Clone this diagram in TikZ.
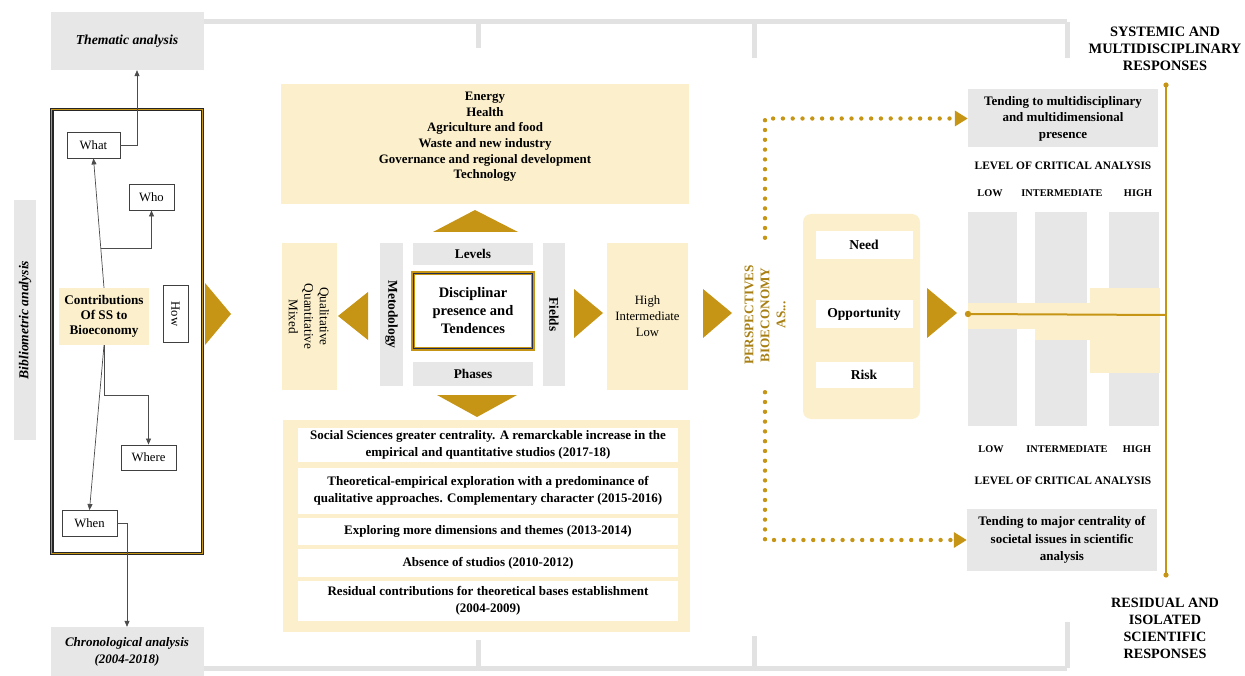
\documentclass[tikz,border=0pt]{standalone}
\usepackage{fontspec}
\setmainfont{Liberation Serif}
\usetikzlibrary{arrows.meta,calc}
\definecolor{gold}{RGB}{198,149,22}
\definecolor{paleY}{RGB}{252,240,204}
\definecolor{paleG}{RGB}{231,231,231}
\definecolor{frameG}{RGB}{226,226,226}
\definecolor{inkB}{RGB}{35,45,80}
\newcommand\fsz[2]{\fontsize{#1}{#2}\selectfont}
\begin{document}
\begin{tikzpicture}[x=1pt,y=-1pt,
  greybox/.style={fill=paleG,draw=none,inner sep=0pt,align=center},
  yelbox/.style={fill=paleY,draw=none,inner sep=0pt,align=center},
  wbox/.style={fill=white,draw=black!75,line width=0.9pt,inner sep=0pt,font=\fsz{12.7}{14}},
  conn/.style={draw=black!70,line width=0.7pt},
  tipA/.style={-{Triangle[width=5pt,length=6pt]}},
  bigtri/.style={fill=gold,draw=none},
  dotline/.style={draw=gold,line width=4.4pt,line cap=round,dash pattern=on 0pt off 9.8pt,
     -{Triangle[width=15pt,length=13pt]}},
  rowbox/.style={fill=white,draw=none,inner sep=0pt,minimum width=380pt,align=center,font=\bfseries\fsz{13}{16.8}},
  small/.style={font=\bfseries\fsz{10.3}{12},inner sep=0pt},
  lca/.style={font=\bfseries\fsz{11.4}{13},inner sep=0pt},
  frameline/.style={draw=frameG,line width=5pt}
]
\useasboundingbox (0,0) rectangle (1245,676);

% ---------- outer grey frame lines ----------
\draw[frameline] (203,22) -- (1067,22);
\draw[frameline] (478,22) -- (478,48);
\draw[frameline] (754,22) -- (754,58);
\draw[frameline] (1067,22) -- (1067,58);
\draw[frameline] (203,668) -- (1067,668);
\draw[frameline] (478,668) -- (478,640);
\draw[frameline] (754,668) -- (754,636);
\draw[frameline] (1067,668) -- (1067,622);

% ---------- left column ----------
\node[greybox,minimum width=153pt,minimum height=58pt,font=\bfseries\itshape\fsz{13.7}{15}] (them) at (127,41) {Thematic analysis};
\node[greybox,minimum width=153pt,minimum height=49pt,font=\bfseries\itshape\fsz{13}{17}] (chron) at (127,651.5) {Chronological analysis\\(2004-2018)};
\node[greybox,rotate=90,minimum width=240pt,minimum height=22pt,font=\bfseries\itshape\fsz{13.6}{15}] (biblio) at (25,320) {Bibliometric analysis};

\node[minimum width=150pt,minimum height=443pt,inner sep=0pt] (frame) at (127,331.5) {};
\draw[line width=3.4pt,draw=black!85] (frame.south west) rectangle (frame.north east);
\draw[line width=1.1pt,draw=gold] (frame.south west) rectangle (frame.north east);

\node[wbox,minimum width=53pt,minimum height=26pt] (what) at (93.5,145) {What};
\node[wbox,minimum width=45pt,minimum height=26pt] (who) at (151.5,197) {Who};
\node[yelbox,minimum width=90pt,minimum height=57pt,font=\bfseries\fsz{13.2}{15.2}] (contrib) at (104,316.5) {Contributions\\Of SS to\\Bioeconomy};
\node[wbox,rotate=-90,minimum width=57pt,minimum height=25pt] (how) at (175.5,314) {How};
\node[wbox,minimum width=55pt,minimum height=25pt] (where) at (148.5,457.5) {Where};
\node[wbox,minimum width=55pt,minimum height=26pt] (when) at (89.5,523.5) {When};

\coordinate (wb) at ($(contrib.north)!0.3077!(what.south)$);
\draw[conn,tipA] (contrib.north) -- (what.south);
\draw[conn,tipA] (wb) -| (who.south);
\draw[conn,tipA] (what.east) -| ($(them.south)+(10,0)$);
\draw[conn,tipA] (contrib.south) -- ++(0,50) -| (where.north);
\draw[conn,tipA] (contrib.south) -- (when.north);
\draw[conn,tipA] (when.east) -| (chron.north);

\fill[bigtri] (205,283) -- (231,314) -- (205,345) -- cycle;

% ---------- middle ----------
\node[yelbox,minimum width=408pt,minimum height=120pt] (sectbg) at (485,144) {};
\node[inner sep=0pt,align=center,font=\bfseries\fsz{12.9}{15.6}] (sectors) at (485,137) {Energy\\Health\\Agriculture and food\\Waste and new industry\\Governance and regional development\\Technology};
\fill[bigtri] (433,232) -- (475,210) -- (518,232) -- cycle;

\node[greybox,rotate=-90,minimum width=143pt,minimum height=23pt,font=\bfseries\fsz{13.5}{14}] (metod) at (391.5,314.5) {Metodology};
\node[greybox,rotate=-90,minimum width=143pt,minimum height=22pt,font=\bfseries\fsz{13.3}{14}] (fields) at (554,314.5) {Fields};
\node[greybox,minimum width=120pt,minimum height=22pt,font=\bfseries\fsz{13.3}{14}] (levels) at (473,254) {Levels};
\node[greybox,minimum width=120pt,minimum height=24pt,font=\bfseries\fsz{13.3}{14}] (phases) at (473,374) {Phases};
\node[fill=white,draw=gold,line width=3.4pt,minimum width=120pt,minimum height=76pt,inner sep=0pt,align=center,font=\bfseries\fsz{14.5}{18}] (disc) at (473,311) {Disciplinar\\presence and\\Tendences};
\draw[line width=0.9pt,draw=inkB] ($(disc.south west)+(2.6,-2.6)$) rectangle ($(disc.north east)+(-2.6,2.6)$);

\fill[bigtri] (368,292) -- (338,316) -- (368,340) -- cycle;
\node[yelbox,rotate=-90,minimum width=147pt,minimum height=55pt,font=\fsz{13.2}{15.5}] (qual) at (309,316.5) {Qualitative\\Quantitative\\Mixed};
\fill[bigtri] (574,289) -- (603,313) -- (574,338) -- cycle;
\node[yelbox,minimum width=81pt,minimum height=147pt,font=\fsz{12.7}{16}] (hil) at (647.5,316.5) {High\\Intermediate\\Low};
\fill[bigtri] (703,289) -- (732,313) -- (703,338) -- cycle;
\fill[bigtri] (437,395) -- (517,395) -- (477,417) -- cycle;

\node[yelbox,minimum width=407pt,minimum height=212pt] (phasebox) at (486.5,526) {};
\node[rowbox,minimum height=34pt] (r1) at (488,445) {Social Sciences greater centrality. A remarckable increase in the\\empirical and quantitative studios (2017-18)};
\node[rowbox,minimum height=46pt] (r2) at (488,491) {Theoretical-empirical exploration with a predominance of\\qualitative approaches. Complementary character (2015-2016)};
\node[rowbox,minimum height=27pt] (r3) at (488,531) {Exploring more dimensions and themes (2013-2014)};
\node[rowbox,minimum height=28pt] (r4) at (488,563) {Absence of studios (2010-2012)};
\node[rowbox,minimum height=40pt] (r5) at (488,601) {Residual contributions for theoretical bases establishment\\(2004-2009)};

% ---------- right ----------
\node[rotate=90,minimum width=154pt,inner sep=0pt,align=center,text=gold!85!black,font=\bfseries\fsz{13.2}{16}] (persp) at (765,315) {PERSPECTIVES\\BIOECONOMY\\AS...};

\node[greybox,minimum width=190pt,minimum height=58pt,font=\bfseries\fsz{13}{16.5}] (tend1) at (1063,118.5) {Tending to multidisciplinary\\and multidimensional\\presence};
\node[greybox,minimum width=190pt,minimum height=62pt,font=\bfseries\fsz{13}{17.5}] (tend2) at (1062,540) {Tending to major centrality of\\societal issues in scientific\\analysis};

\draw[dotline] (persp.east) |- (tend1.west);
\draw[dotline] (persp.west) |- (tend2.west);

\node[yelbox,rounded corners=8pt,minimum width=117pt,minimum height=205pt] (npanel) at (861.5,316.5) {};
\node[fill=white,inner sep=0pt,minimum width=97pt,minimum height=28pt,font=\bfseries\fsz{13.6}{14}] (need) at (864,245) {Need};
\node[fill=white,inner sep=0pt,minimum width=97pt,minimum height=28pt,font=\bfseries\fsz{13.6}{14}] (opp) at (864,314) {Opportunity};
\node[fill=white,inner sep=0pt,minimum width=97pt,minimum height=26pt,font=\bfseries\fsz{13.6}{14}] (risk) at (864,375) {Risk};
\fill[bigtri] (927,288) -- (957,313) -- (927,338) -- cycle;

\fill[paleG] (968,212) rectangle (1017,426);
\fill[paleG] (1035,212) rectangle (1087,426);
\fill[paleG] (1109,212) rectangle (1159,426);
\fill[paleY] (968,303) rectangle (1160,329);
\fill[paleY] (1035,303) rectangle (1100,340);
\fill[paleY] (1090,288) rectangle (1160,373);

\node[lca] (lca1) at (1063,166) {LEVEL OF CRITICAL ANALYSIS};
\node[small] (low1) at (990,193) {LOW};
\node[small] (int1) at (1062,193) {INTERMEDIATE};
\node[small] (high1) at (1138,193) {HIGH};
\node[small] (low2) at (991,449) {LOW};
\node[small] (int2) at (1067,449) {INTERMEDIATE};
\node[small] (high2) at (1137,449) {HIGH};
\node[lca] (lca2) at (1063,481) {LEVEL OF CRITICAL ANALYSIS};

\node[inner sep=0pt,align=center,font=\bfseries\fsz{14.4}{16.8}] (sys) at (1165,49) {SYSTEMIC AND\\MULTIDISCIPLINARY\\RESPONSES};
\node[inner sep=0pt,align=center,font=\bfseries\fsz{14.2}{17}] (res) at (1165,628.5) {RESIDUAL AND\\ISOLATED\\SCIENTIFIC\\RESPONSES};

\coordinate (axtop) at (1166,85);
\coordinate (axbot) at (1166,575);
\coordinate (axmid) at (1166,315);
\coordinate (hstart) at (968,314);
\draw[draw=gold,line width=2pt] (axtop) -- (axbot);
\fill[gold] (axtop) circle (2.6pt) (axbot) circle (2.6pt);
\draw[draw=gold,line width=2pt] (hstart) -- (axmid);
\fill[gold] (hstart) circle (3.2pt);
\end{tikzpicture}
\end{document}
